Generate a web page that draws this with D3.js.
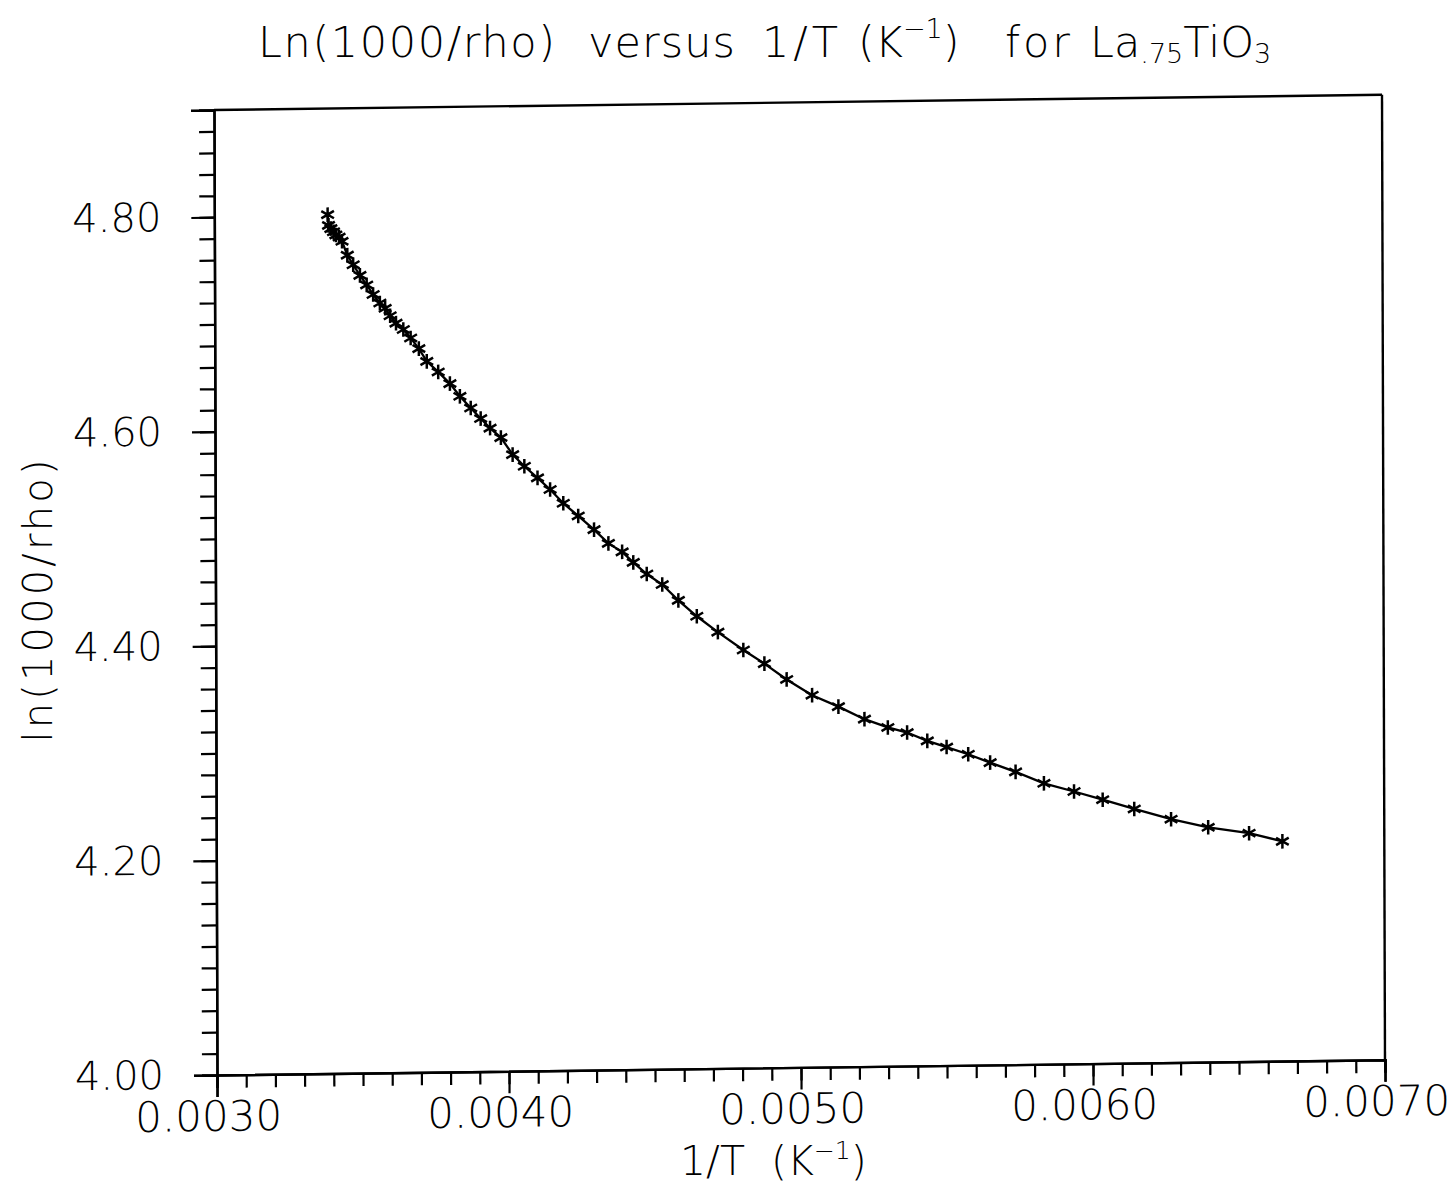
<!DOCTYPE html>
<html>
<head>
<meta charset="utf-8">
<script src="https://cdn.jsdelivr.net/npm/d3@7"></script>
<style>
  html, body { margin: 0; padding: 0; background: #fff; }
  svg { display: block; }
  text { font-family: "DejaVu Sans", "Liberation Sans", sans-serif; font-weight: 200; fill: #000; }
</style>
</head>
<body>
<svg id="chart" width="1454" height="1186"></svg>
<script>
// ---- data ----
const invT = [
  0.003388, 0.003391, 0.003399, 0.003408, 0.003416, 0.003427, 0.003437, 0.003455,
  0.003475, 0.003498, 0.003521, 0.003543, 0.003566, 0.003584, 0.003601, 0.003621,
  0.003646, 0.003671, 0.003699, 0.003726, 0.003765, 0.003805, 0.003839, 0.003876,
  0.003910, 0.003942, 0.003979, 0.004019, 0.004059, 0.004104, 0.004147, 0.004192,
  0.004243, 0.004297, 0.004346, 0.004393, 0.004431, 0.004477, 0.004530, 0.004585,
  0.004648, 0.004720, 0.004807, 0.004879, 0.004955, 0.005042, 0.005132, 0.005221,
  0.005301, 0.005367, 0.005436, 0.005502, 0.005576, 0.005651, 0.005738, 0.005835,
  0.005938, 0.006036, 0.006144, 0.006270, 0.006397, 0.006537, 0.006651
];
const lnRho = [
  4.801, 4.791, 4.788, 4.785, 4.782, 4.780, 4.776, 4.763,
  4.754, 4.744, 4.735, 4.726, 4.718, 4.713, 4.706, 4.699,
  4.693, 4.685, 4.675, 4.663, 4.653, 4.642, 4.630, 4.619,
  4.609, 4.600, 4.591, 4.575, 4.564, 4.553, 4.542, 4.529,
  4.517, 4.504, 4.491, 4.483, 4.473, 4.462, 4.452, 4.437,
  4.422, 4.407, 4.390, 4.377, 4.362, 4.347, 4.336, 4.324,
  4.316, 4.311, 4.303, 4.297, 4.290, 4.282, 4.273, 4.262,
  4.254, 4.246, 4.237, 4.227, 4.219, 4.213, 4.205
];
const xTickValues = [0.003, 0.004, 0.005, 0.006, 0.007];
const yTickValues = [4.0, 4.2, 4.4, 4.6, 4.8];
const xDomain = [0.003, 0.007];
const yDomain = [4.0, 4.9];
const titleText = "Ln(1000/rho)";
const xLabelText = "1/T";
const yLabelText = "ln(1000/rho)";

// ---- layout ----
const W = 1168, H = 965;
const svg = d3.select("#chart");
svg.append("rect").attr("width", 1454).attr("height", 1186).attr("fill", "#fff");

// slight skew reproducing the scanned page
const k = -0.013, s = 0.0031;
const g = svg.append("g").attr("transform", `matrix(1,${k},${s},1,214,110)`);

const x = d3.scaleLinear().domain(xDomain).range([0, W]);
const y = d3.scaleLinear().domain(yDomain).range([H, 0]);

const axisStroke = 2.4;

// minor ticks
const yMinor = d3.range(0, 46).map(i => 4.0 + i * 0.02);
const xMinor = d3.range(0, 41).map(i => 0.003 + i * 0.0001);

const gyMinor = g.append("g").call(d3.axisLeft(y).tickValues(yMinor).tickSize(15).tickFormat(""));
const gxMinor = g.append("g").attr("transform", `translate(0,${H})`)
  .call(d3.axisBottom(x).tickValues(xMinor).tickSize(13).tickFormat(""));

const gy = g.append("g").call(
  d3.axisLeft(y).tickValues(yTickValues).tickSize(23).tickPadding(30).tickFormat(d3.format(".2f")));
const gx = g.append("g").attr("transform", `translate(0,${H})`).call(
  d3.axisBottom(x).tickValues(xTickValues).tickSize(22).tickPadding(4).tickFormat(d3.format(".4f")));

[gyMinor, gxMinor, gy, gx].forEach(a => {
  a.selectAll("path.domain").attr("stroke", "#000").attr("stroke-width", axisStroke);
  a.selectAll(".tick line").attr("stroke", "#000").attr("stroke-width", 2.2);
});
gy.selectAll(".tick text").attr("font-size", 40).attr("font-family", "DejaVu Sans").attr("font-weight", 200).attr("fill", "#000");
gx.selectAll(".tick text").attr("font-size", 42).attr("font-family", "DejaVu Sans").attr("font-weight", 200).attr("fill", "#000").attr("dx", -9);

// frame top & right
g.append("line").attr("x1", 0).attr("x2", W).attr("y1", 0).attr("y2", 0)
  .attr("stroke", "#000").attr("stroke-width", axisStroke);
g.append("line").attr("x1", W).attr("x2", W).attr("y1", 0).attr("y2", H)
  .attr("stroke", "#000").attr("stroke-width", axisStroke);

// data line and markers
const pts = invT.map((v, i) => [v, lnRho[i]]);
g.append("path").datum(pts)
  .attr("fill", "none").attr("stroke", "#000").attr("stroke-width", 2.3)
  .attr("d", d3.line().x(d => x(d[0])).y(d => y(d[1])));

const star = d3.symbol().type(d3.symbolAsterisk).size(150);
g.append("g").selectAll("path").data(pts).join("path")
  .attr("transform", d => `translate(${x(d[0])},${y(d[1])})`)
  .attr("d", star).attr("fill", "none").attr("stroke", "#000").attr("stroke-width", 2.5);

// y label
svg.append("text")
  .attr("transform", "translate(52,601) rotate(-90)")
  .attr("text-anchor", "middle").attr("font-size", 40)
  .attr("textLength", 283).attr("lengthAdjust", "spacing")
  .text(yLabelText);

// x label
const xl = svg.append("text").attr("x", 680).attr("y", 1175).attr("font-size", 41);
xl.append("tspan").text(xLabelText + "\u00a0\u00a0(K");
xl.append("tspan").attr("font-size", 25).attr("dy", -16).text("\u22121");
xl.append("tspan").attr("dy", 16).text(")");

// title
const tY = 57, tFS = 43;
svg.append("text").attr("x", 258).attr("y", tY).attr("font-size", tFS)
  .attr("textLength", 297).attr("lengthAdjust", "spacing").text(titleText);
svg.append("text").attr("x", 588).attr("y", tY).attr("font-size", tFS)
  .attr("textLength", 147).attr("lengthAdjust", "spacing").text("versus");
svg.append("text").attr("x", 762).attr("y", tY).attr("font-size", tFS)
  .attr("textLength", 76).attr("lengthAdjust", "spacing").text("1/T");
const tk = svg.append("text").attr("x", 858).attr("y", tY).attr("font-size", tFS);
tk.append("tspan").text("(K");
tk.append("tspan").attr("font-size", 27).attr("dy", -19).text("\u22121");
tk.append("tspan").attr("dy", 19).text(")");
svg.append("text").attr("x", 1005).attr("y", tY).attr("font-size", tFS)
  .attr("textLength", 65).attr("lengthAdjust", "spacing").text("for");
const tl = svg.append("text").attr("x", 1090).attr("y", tY).attr("font-size", tFS);
tl.append("tspan").text("La");
tl.append("tspan").attr("font-size", 27).attr("dy", 6).text(".75");
tl.append("tspan").attr("dy", -6).text("TiO");
tl.append("tspan").attr("font-size", 27).attr("dy", 6).text("3");
</script>
</body>
</html>
